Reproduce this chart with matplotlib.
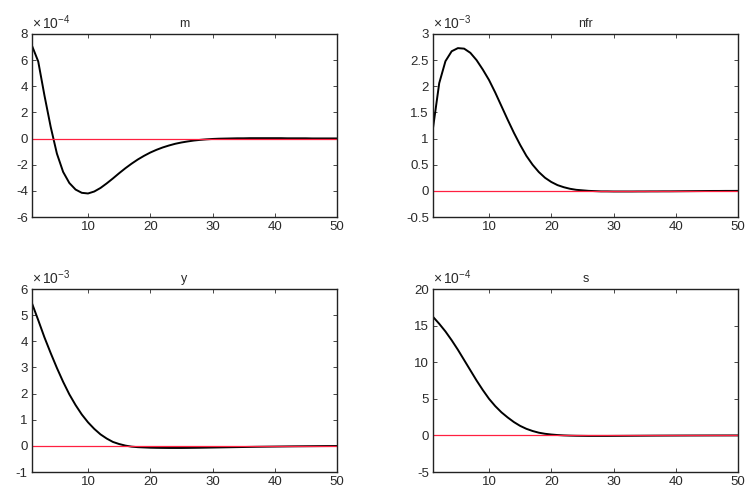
import matplotlib
matplotlib.use("Agg")
import matplotlib.pyplot as plt

plt.rcParams["font.family"] = ["Liberation Sans", "DejaVu Sans"]
plt.rcParams["mathtext.fontset"] = "custom"
plt.rcParams["mathtext.rm"] = "Liberation Sans"
plt.rcParams["mathtext.it"] = "Liberation Sans:italic"

periods = list(range(1, 51))

# impulse responses (scaled by the factor shown above each panel)
m_irf = [7.1, 5.9, 3.3, 0.9, -1.15, -2.55, -3.4, -3.9, -4.15, -4.2,
         -4.05, -3.78, -3.43, -3.05, -2.65, -2.27, -1.92, -1.6, -1.32, -1.07,
         -0.86, -0.68, -0.53, -0.4, -0.3, -0.22, -0.15, -0.1, -0.06, -0.03,
         -0.01, 0.0, 0.01, 0.02, 0.02, 0.03, 0.03, 0.03, 0.03, 0.03,
         0.03, 0.02, 0.02, 0.02, 0.02, 0.01, 0.01, 0.01, 0.01, 0.01]
nfr_irf = [1.2, 2.06, 2.48, 2.67, 2.73, 2.72, 2.64, 2.5, 2.32, 2.12,
           1.88, 1.62, 1.36, 1.11, 0.88, 0.67, 0.5, 0.36, 0.25, 0.17,
           0.11, 0.07, 0.04, 0.02, 0.01, 0.0, -0.005, -0.01, -0.01, -0.012,
           -0.012, -0.012, -0.012, -0.011, -0.011, -0.01, -0.01, -0.009, -0.009, -0.008,
           -0.007, -0.006, -0.005, -0.004, -0.003, -0.002, -0.002, -0.001, -0.001, 0.0]
y_irf = [5.45, 4.81, 4.15, 3.55, 2.98, 2.45, 1.97, 1.56, 1.2, 0.9,
         0.65, 0.44, 0.28, 0.15, 0.07, 0.01, -0.03, -0.05, -0.06, -0.07,
         -0.075, -0.078, -0.08, -0.08, -0.08, -0.078, -0.075, -0.072, -0.068, -0.064,
         -0.06, -0.056, -0.052, -0.048, -0.044, -0.04, -0.036, -0.033, -0.03, -0.027,
         -0.024, -0.021, -0.018, -0.016, -0.014, -0.012, -0.01, -0.008, -0.007, -0.006]
s_irf = [16.2, 15.25, 14.2, 13.0, 11.7, 10.3, 8.9, 7.5, 6.2, 5.0,
         4.0, 3.15, 2.45, 1.82, 1.3, 0.9, 0.6, 0.37, 0.22, 0.12,
         0.05, 0.0, -0.03, -0.05, -0.06, -0.07, -0.07, -0.07, -0.07, -0.065,
         -0.06, -0.055, -0.05, -0.045, -0.04, -0.035, -0.03, -0.027, -0.024, -0.021,
         -0.018, -0.015, -0.013, -0.011, -0.009, -0.007, -0.006, -0.005, -0.004, -0.003]

titles = ["m", "nfr", "y", "s"]
series = [m_irf, nfr_irf, y_irf, s_irf]
exponents = [-4, -3, -3, -4]
ylims = [(-6, 8), (-0.5, 3), (-1, 6), (-5, 20)]
yticks = [list(range(-6, 9, 2)),
          [-0.5, 0, 0.5, 1, 1.5, 2, 2.5, 3],
          list(range(-1, 7)),
          [-5, 0, 5, 10, 15, 20]]
xticks = [10, 20, 30, 40, 50]

fig = plt.figure(figsize=(7.47, 4.90), dpi=100)
W, H = 747, 490
boxes = [(32, 34), (433, 34), (32, 289), (433, 289)]
aw, ah = 305, 183
txt = "#2a2a2a"

for (x0, y0), title, vals, ex, yl, yt in zip(boxes, titles, series, exponents, ylims, yticks):
    ax = fig.add_axes([x0 / W, 1 - (y0 + ah) / H, aw / W, ah / H])
    ax.plot(periods, vals, color="black", lw=1.4)
    ax.axhline(0, color="#ff2040", lw=0.9)
    ax.set_xlim(1, 50)
    ax.set_ylim(*yl)
    ax.set_xticks(xticks)
    ax.set_yticks(yt)
    ax.set_yticklabels([f"{v:g}" for v in yt])
    ax.tick_params(direction="in", length=3, width=0.6, top=True, right=True,
                   labelsize=9.5, colors=txt, pad=3)
    for sp in ax.spines.values():
        sp.set_linewidth(1.0)
        sp.set_color("#222222")
    ax.set_title(title, fontsize=9, pad=5, color=txt)
    ax.text(0.0, 1.01, rf"$\times\,10^{{{ex}}}$", transform=ax.transAxes,
            fontsize=10, ha="left", va="bottom", color=txt)

fig.savefig("out.png", dpi=100)
